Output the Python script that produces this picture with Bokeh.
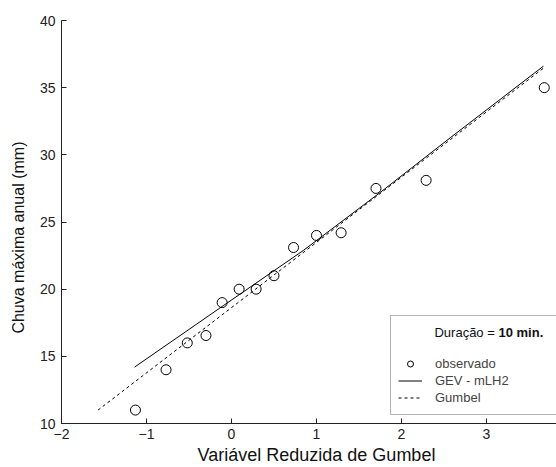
from bokeh.plotting import figure
from bokeh.models import Range1d, BoxAnnotation, Label, Legend, LegendItem, FixedTicker
from bokeh.embed import file_html
from bokeh.resources import INLINE

# observed data (Gumbel reduced variate, annual max rainfall mm)
x_obs = [-1.13, -0.77, -0.52, -0.30, -0.11, 0.09, 0.29, 0.50, 0.73, 1.00, 1.29, 1.70, 2.29, 3.68]
y_obs = [11.0, 14.0, 16.0, 16.55, 19.0, 20.0, 20.0, 21.0, 23.1, 24.0, 24.2, 27.5, 28.1, 35.0]

# GEV - mLH2 fitted curve
x_gev = [-1.14, -0.09, 0.85, 1.75, 2.58, 3.67]
y_gev = [14.2, 18.8, 22.9, 27.2, 31.3, 36.6]

# Gumbel fitted line
x_gum = [-1.57, 3.67]
y_gum = [11.0, 36.45]

x_ticks = [-2, -1, 0, 1, 2, 3, 4]
y_ticks = [10, 15, 20, 25, 30, 35, 40]

FONT = "Liberation Sans"

p = figure(width=556, height=467, output_backend="svg", toolbar_location=None,
           x_range=Range1d(-2, 3.824), y_range=Range1d(10, 40),
           min_border_left=61, min_border_right=0, min_border_top=20, min_border_bottom=44)
p.outline_line_color = None
p.grid.visible = False
p.background_fill_color = "white"
p.border_fill_color = "white"

for ax in (p.xaxis, p.yaxis):
    ax.major_tick_in = 5
    ax.major_tick_out = 0
    ax.minor_tick_line_color = None
    ax.axis_line_color = "#222222"
    ax.major_tick_line_color = "#222222"
    ax.major_label_text_font = FONT
    ax.major_label_text_font_size = "14px"
    ax.major_label_text_color = "#222222"
    ax.axis_label_text_font = FONT
    ax.axis_label_text_font_style = "normal"
    ax.axis_label_text_color = "#111111"

p.xaxis.axis_label_text_font_size = "18px"
p.yaxis.axis_label_text_font_size = "16px"
p.xaxis.ticker = FixedTicker(ticks=x_ticks)
p.yaxis.ticker = FixedTicker(ticks=y_ticks)
p.xaxis.axis_label = "\u00a0\u00a0\u00a0Variável Reduzida de Gumbel"
p.yaxis.axis_label = "Chuva máxima anual (mm)" + "\u00a0" * 7
p.xaxis.major_label_standoff = 5
p.yaxis.major_label_standoff = 6
p.xaxis.axis_label_standoff = 3
p.yaxis.axis_label_standoff = 10

r_gum = p.line(x_gum, y_gum, line_color="black", line_width=1, line_dash="3 3")
r_gev = p.line(x_gev, y_gev, line_color="black", line_width=1)
r_obs = p.scatter(x_obs, y_obs, marker="circle", size=10, fill_color=None,
                  line_color="black", line_width=1)

# legend frame
box = BoxAnnotation(left=1.871, right=4.5, bottom=10.67, top=18.04,
                    fill_color="white", fill_alpha=1, line_color="black", line_width=1)
p.add_layout(box)

legend = Legend(items=[LegendItem(label="observado", renderers=[r_obs]),
                       LegendItem(label="GEV - mLH2", renderers=[r_gev]),
                       LegendItem(label="Gumbel", renderers=[r_gum])],
                location=(337, 18), border_line_color=None, background_fill_alpha=0,
                label_text_font=FONT, label_text_font_size="13px",
                glyph_width=24, glyph_height=15, label_height=15, spacing=2,
                padding=0, margin=0, label_standoff=13)
p.add_layout(legend)

t1 = Label(x=2.388, y=16.78, text="Duração =", text_font=FONT, text_font_size="13px",
           text_baseline="middle", text_color="#111111")
t2 = Label(x=3.141, y=16.78, text="10 min.", text_font=FONT, text_font_size="13px",
           text_font_style="bold", text_baseline="middle", text_color="#111111")
p.add_layout(t1)
p.add_layout(t2)

open("out.html", "w").write(file_html(p, INLINE))
